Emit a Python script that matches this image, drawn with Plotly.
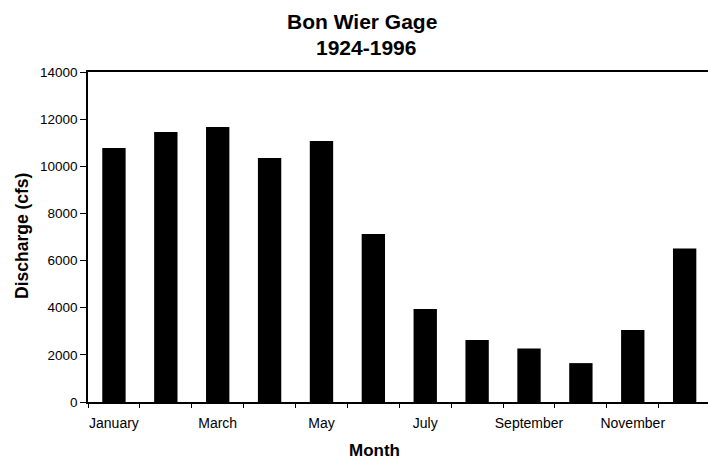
import plotly.graph_objects as go

months = ["January", "February", "March", "April", "May", "June", "July",
          "August", "September", "October", "November", "December"]
discharge = [10780, 11450, 11670, 10350, 11070, 7130, 3950, 2630, 2270, 1650, 3050, 6510]
tick_labels = ["January", "", "March", "", "May", "", "July", "", "September", "", "November", ""]
y_ticks = [0, 2000, 4000, 6000, 8000, 10000, 12000, 14000]
y_tick_text = [str(v) for v in y_ticks]

fig = go.Figure(go.Bar(x=months, y=discharge, marker=dict(color="black", line=dict(width=0)),
                       width=0.45))

font_family = "Liberation Sans, Arial, sans-serif"
L, R, T, B = 88, 0, 72, 60
W, H = 708, 462
pw, ph = W - L - R, H - T - B

def px_x(x):
    return (x - L) / pw

def px_y(y):
    return (H - B - y) / ph

fig.update_layout(
    width=W, height=H,
    margin=dict(l=L, r=R, t=T, b=B, autoexpand=False),
    paper_bgcolor="white", plot_bgcolor="white",
    showlegend=False,
    font=dict(family=font_family, color="black", size=14),
)
fig.add_annotation(text="<b>Bon Wier Gage</b>", xref="paper", yref="paper",
                   x=px_x(362), y=px_y(22), showarrow=False,
                   font=dict(size=21, family=font_family), xanchor="center", yanchor="middle")
fig.add_annotation(text="<b>1924-1996</b>", xref="paper", yref="paper",
                   x=px_x(366), y=px_y(48), showarrow=False,
                   font=dict(size=21, family=font_family), xanchor="center", yanchor="middle")
fig.add_annotation(text="<b>Month</b>", xref="paper", yref="paper",
                   x=px_x(374), y=px_y(450), showarrow=False,
                   font=dict(size=17, family=font_family), xanchor="center", yanchor="middle")
fig.add_annotation(text="<b>Discharge (cfs)</b>", xref="paper", yref="paper",
                   x=px_x(22), y=px_y(236), showarrow=False, textangle=-90,
                   font=dict(size=17.5, family=font_family), xanchor="center", yanchor="middle")

fig.update_xaxes(
    type="category", tickvals=months, ticktext=tick_labels, tickangle=0,
    tickson="boundaries", ticks="outside", ticklen=4, tickcolor="black",
    showline=True, linecolor="black", linewidth=2, mirror=True,
    showgrid=False, range=[-0.5, 11.45], automargin=False,
    tickfont=dict(size=14), ticklabelstandoff=7,
)
fig.update_yaxes(
    range=[0, 14000], tickvals=y_ticks, ticktext=y_tick_text, ticks="outside", ticklen=6,
    tickcolor="black", showline=True, linecolor="black", linewidth=1.5,
    showgrid=False, zeroline=False, automargin=False,
    tickfont=dict(size=13.5),
)
fig.write_html("out.html", config={"displayModeBar": False},
               post_script="document.body.style.margin='0';")
